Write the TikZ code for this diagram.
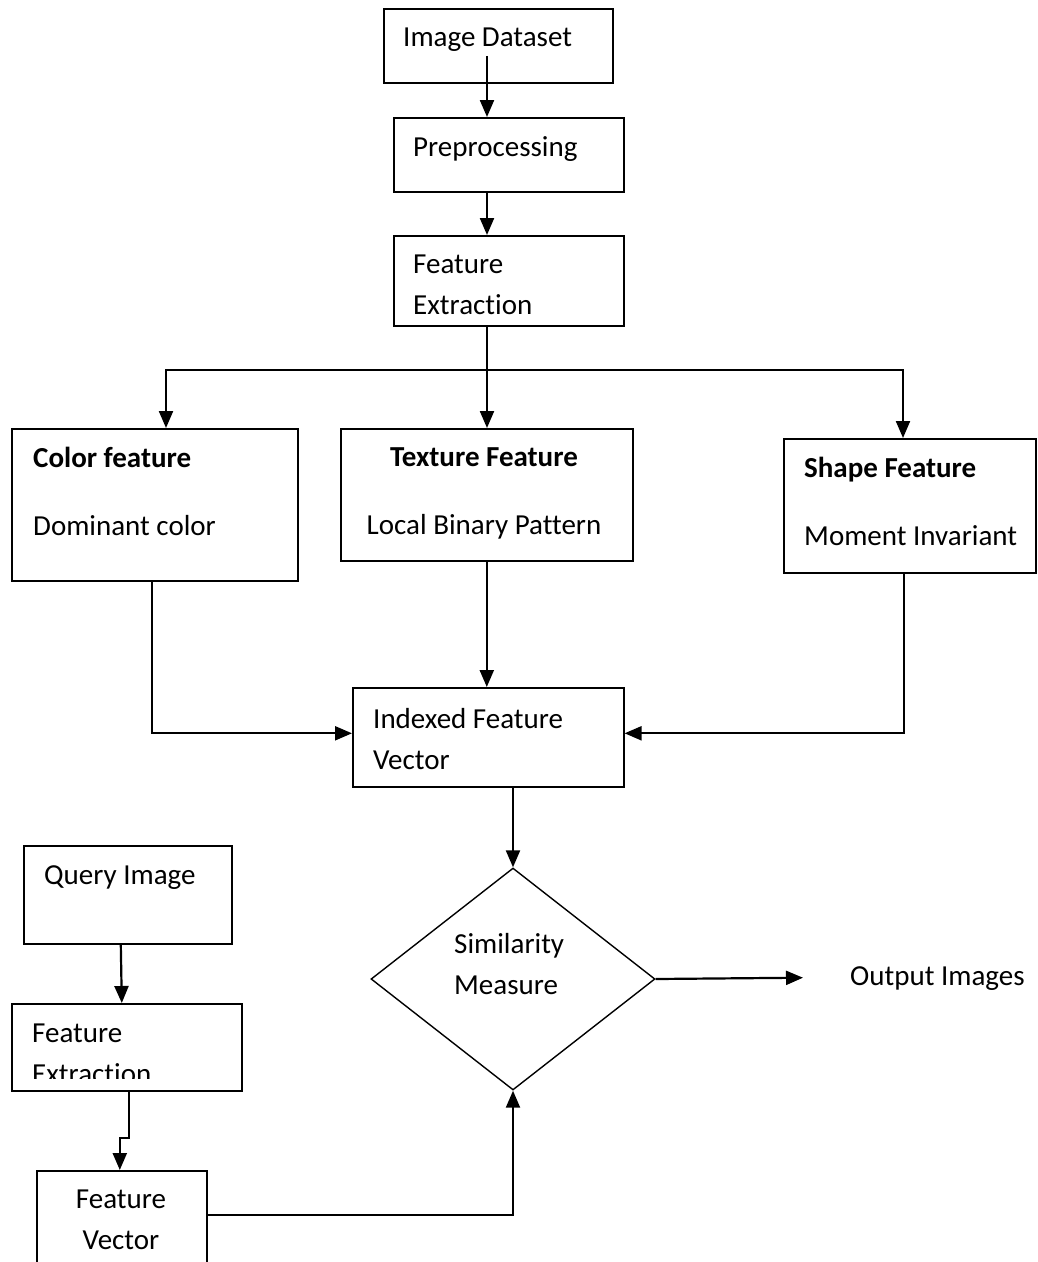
\documentclass[tikz,border=0pt]{standalone}
\usepackage{fontspec}
\setmainfont{Carlito}[Ligatures=NoCommon]
\usepackage{tikz}
\usetikzlibrary{arrows.meta,calc,positioning,shapes.geometric}

\begin{document}
\begin{tikzpicture}[
    x=1pt,y=-1pt,
    box/.style={draw,line width=1.6pt,inner sep=0pt,anchor=north west},
    txt/.style={inner sep=0pt,anchor=north west,align=left,
                font=\fontsize{29}{41}\selectfont,execute at begin node=\strut},
    arr/.style={-{Triangle[length=17pt,width=14pt]},line width=2.2pt},
    link/.style={line width=2.2pt}
  ]
  \useasboundingbox (0,0) rectangle (1037,1262);
  \clip (0,0) rectangle (1037,1262);

  % database side
  \node[box,minimum width=229pt,minimum height=74pt] (dataset) at (383,8) {};
  \node[txt] (dataset-t) at (403,18) {Image Dataset};
  \node[box,minimum width=230pt,minimum height=74pt] (prep) at (393,117) {};
  \node[txt] (prep-t) at (413,128) {Preprocessing};
  \node[box,minimum width=230pt,minimum height=90pt] (extract) at (393,235) {};
  \node[txt] (extract-t) at (413,255) {Feature\\Extraction};

  % the three features
  \node[box,minimum width=286pt,minimum height=152pt] (color) at (11,428) {};
  \node[txt] (color-t) at (33,447) {\textbf{Color feature}\\[27pt]Dominant color};
  \node[box,minimum width=292pt,minimum height=132pt] (texture) at (340,428) {};
  \node[txt,anchor=north,align=center] (texture-t) at (484,447)
    {\textbf{Texture Feature}\\[27pt]Local Binary Pattern};
  \node[box,minimum width=252pt,minimum height=134pt] (shape) at (783,438) {};
  \node[txt] (shape-t) at (804,457) {\textbf{Shape Feature}\\[27pt]Moment Invariant};

  \node[box,minimum width=271pt,minimum height=99pt] (index) at (352,687) {};
  \node[txt] (index-t) at (373,708) {Indexed Feature\\Vector};

  \node[draw,diamond,line width=1.4pt,inner sep=0pt,
        minimum width=284pt,minimum height=222pt] (sim) at (513,979) {};
  \node[txt] (sim-t) at (454,933) {Similarity\\Measure};
  \node[txt] (output) at (850,957) {Output Images};

  % query side
  \node[box,minimum width=208pt,minimum height=98pt] (query) at (23,845) {};
  \node[txt] (query-t) at (44,856) {Query Image};
  \node[box,minimum width=230pt,minimum height=87pt] (qextract) at (11,1003) {};
  \begin{scope}
    \clip (qextract.north west) rectangle ([yshift=13pt]qextract.south east);
    \node[txt] (qextract-t) at (32,1024) {Feature\\Extraction};
  \end{scope}
  \node[box,minimum width=170pt,minimum height=130pt] (qvector) at (36,1170) {};
  \node[txt,anchor=north,align=center] (qvector-t) at (121,1190) {Feature\\Vector};

  % connectors
  \coordinate (spine) at (487,0);
  \coordinate (split) at (487,370);
  \coordinate (cdrop) at (166,370);
  \coordinate (sdrop) at (903,370);
  \draw[arr] ([yshift=-10pt]spine |- dataset.center) -- (spine |- prep.north);
  \draw[arr] (spine |- prep.south) -- (spine |- extract.north);
  \draw[link] (spine |- extract.south) -- (split);
  \draw[arr] (split) -- (spine |- texture.north);
  \draw[arr] (split) -- (cdrop) -- (cdrop |- color.north);
  \draw[arr] (split) -- (sdrop) -- (sdrop |- shape.north);
  \draw[arr] (texture.south) -- (texture.south |- index.north);
  \draw[arr] ([xshift=-3pt]color.south) |- ([yshift=4pt]index.west);
  \draw[arr] ([xshift=-6pt]shape.south) |- ([yshift=4pt]index.east);
  \draw[arr] (sim.north |- index.south) -- (sim.north);
  \draw[arr] (sim.east) -- ([xshift=-47pt]output.west);
  \draw[arr] ([xshift=-7pt]query.south) -- ([xshift=-5pt]qextract.north);
  \draw[arr] ([xshift=2pt]qextract.south) -- ++(0,46) -| ([xshift=-2pt]qvector.north);
  \draw[arr] ([yshift=-45pt]qvector.north east) -| (sim.south);
\end{tikzpicture}
\end{document}
